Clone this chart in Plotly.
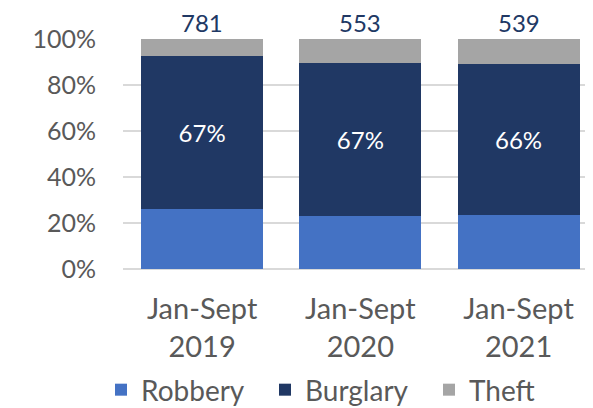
import plotly.graph_objects as go

categories = ["Jan-Sept<br>2019", "Jan-Sept<br>2020", "Jan-Sept<br>2021"]
robbery = [26.1, 22.9, 23.6]
burglary = [66.6, 66.8, 65.5]
theft = [7.3, 10.3, 10.9]
totals = [781, 553, 539]
burglary_labels = ["67%", "67%", "66%"]

FONT = "Lato"
GREY = "#595959"

fig = go.Figure()
fig.add_trace(go.Bar(x=categories, y=robbery, name="Robbery", marker_color="#4472C4",
                     marker_line_width=0))
fig.add_trace(go.Bar(x=categories, y=burglary, name="Burglary", marker_color="#203864",
                     marker_line_width=0, text=burglary_labels, textposition="inside",
                     insidetextanchor="middle", textfont=dict(color="white", size=24, family=FONT),
                     hoverinfo="skip"))
fig.add_trace(go.Bar(x=categories, y=theft, name="Theft", marker_color="#A5A5A5",
                     marker_line_width=0))

for c, t in zip(categories, totals):
    fig.add_annotation(x=c, y=100, text=str(t), showarrow=False, yanchor="bottom",
                       yshift=1, borderpad=0, font=dict(color="#203864", size=24, family=FONT))

fig.update_layout(
    barmode="stack",
    bargap=0.229,
    width=593, height=408,
    margin=dict(l=115, r=0, t=31, b=147, autoexpand=False),
    plot_bgcolor="white", paper_bgcolor="white",
    font=dict(family=FONT, color=GREY),
    showlegend=True,
    legend=dict(orientation="h", x=-0.046, xanchor="left", y=-0.526, yanchor="middle",
                font=dict(size=28, color=GREY, family=FONT), traceorder="normal",
                itemwidth=30, entrywidth=119, entrywidthmode="pixels"),
    xaxis=dict(range=[-0.5, 2.521], tickfont=dict(size=29, color=GREY, family=FONT),
               ticklabelstandoff=20, showgrid=False, showline=False, automargin=False),
    yaxis=dict(range=[0, 100], tickvals=[0, 20, 40, 60, 80, 100],
               ticktext=["0%", "20%", "40%", "60%", "80%", "100%"],
               showgrid=True, gridcolor="#D9D9D9", gridwidth=1.5, zeroline=True,
               zerolinecolor="#D9D9D9", zerolinewidth=1.5, automargin=False,
               tickfont=dict(size=25, color=GREY, family=FONT), ticklabelstandoff=26),
)

fig.write_html("out.html")
